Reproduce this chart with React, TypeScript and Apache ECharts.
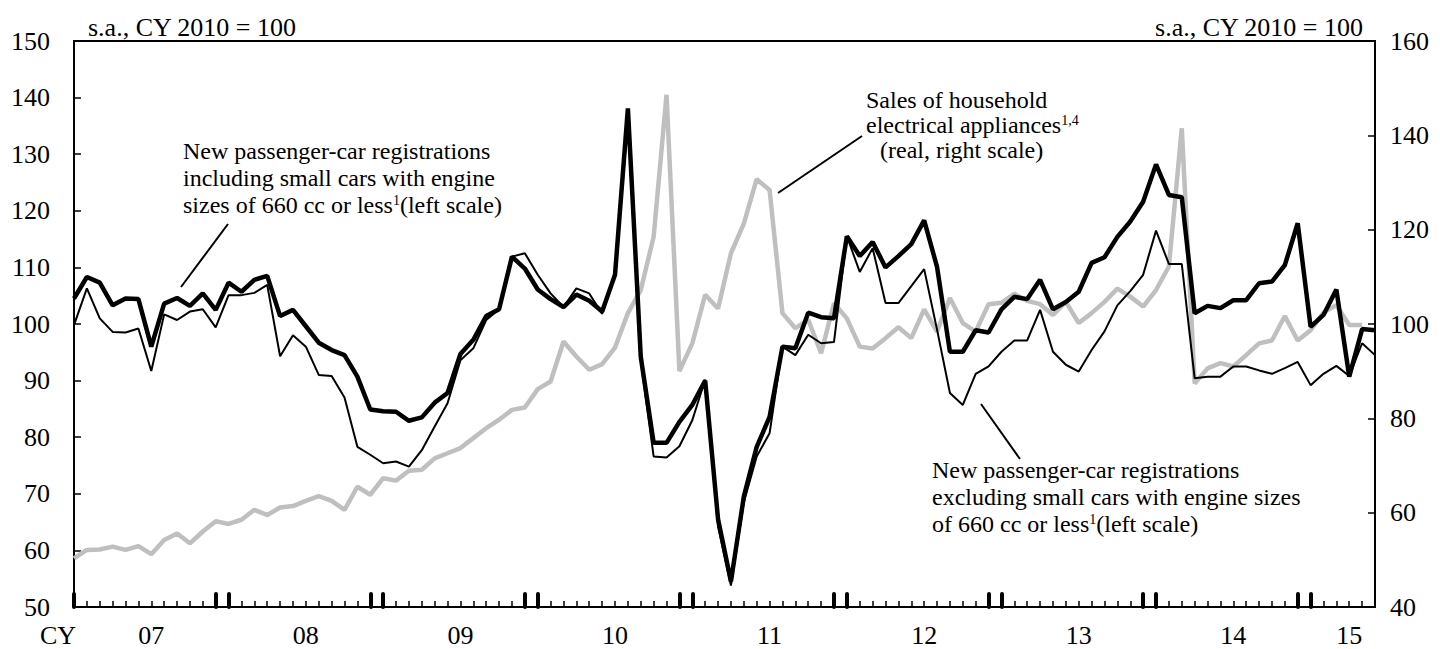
import React, { useEffect, useRef } from "react";
import * as echarts from "echarts";

// ---- data (monthly, Jan 2007 - Jun 2015) ----
const years = [2007, 2008, 2009, 2010, 2011, 2012, 2013, 2014, 2015];
const monthsInLastYear = 6;
const months: string[] = [];
years.forEach((y, yi) => {
  const n = yi === years.length - 1 ? monthsInLastYear : 12;
  for (let m = 1; m <= n; m++) months.push(`${y}-${String(m).padStart(2, "0")}`);
});
const yearTickLabels = ["07", "08", "09", "10", "11", "12", "13", "14", "15"];

// New passenger-car registrations incl. small cars (left scale)
const inclSmall = [
  104.5, 108.3, 107.3, 103.3, 104.5, 104.4, 96.0, 103.6, 104.6, 103.2, 105.4, 102.5,
  107.3, 105.7, 107.8, 108.5, 101.4, 102.5, 99.6, 96.7, 95.4, 94.5, 90.7, 84.9,
  84.6, 84.5, 82.9, 83.5, 86.1, 87.8, 94.7, 97.2, 101.4, 102.6, 111.9, 109.8,
  106.1, 104.4, 103.0, 105.2, 104.1, 102.2, 108.7, 138.1, 94.2, 79.0, 79.0, 82.7,
  85.7, 90.0, 65.5, 54.5, 69.5, 78.3, 83.6, 96.0, 95.7, 102.0, 101.2, 101.0,
  115.5, 112.0, 114.5, 110.0, 112.0, 114.1, 118.3, 110.1, 95.1, 95.1, 98.9, 98.5,
  102.6, 104.8, 104.4, 107.8, 102.6, 103.9, 105.7, 110.8, 111.8, 115.4, 118.1, 121.6,
  128.2, 122.8, 122.4, 101.9, 103.2, 102.8, 104.2, 104.2, 107.2, 107.5, 110.4, 117.8,
  99.5, 101.6, 106.1, 90.7, 99.1, 98.9,
];

// New passenger-car registrations excl. small cars (left scale)
const exclSmall = [
  99.8, 106.3, 101.0, 98.6, 98.5, 99.2, 91.7, 101.7, 100.7, 102.2, 102.6, 99.4,
  105.1, 105.1, 105.5, 106.9, 94.3, 98.0, 96.0, 91.0, 90.8, 87.0, 78.3, 76.9,
  75.4, 75.7, 74.8, 77.7, 81.9, 86.0, 93.6, 95.7, 100.7, 102.6, 111.9, 112.5,
  108.7, 105.4, 103.0, 106.3, 105.4, 101.8, 108.4, 136.0, 93.5, 76.6, 76.4, 78.4,
  83.0, 90.2, 64.2, 53.8, 68.5, 76.6, 80.7, 96.0, 94.5, 98.1, 96.6, 96.8,
  115.5, 109.2, 113.4, 103.7, 103.7, 106.7, 109.7, 99.0, 87.8, 85.7, 91.2, 92.5,
  95.1, 97.1, 97.1, 102.5, 95.1, 92.8, 91.6, 95.4, 98.7, 103.3, 105.8, 108.7,
  116.5, 110.6, 110.6, 90.4, 90.7, 90.7, 92.5, 92.5, 91.8, 91.2, 92.2, 93.3,
  89.2, 91.2, 92.6, 90.8, 96.6, 94.5,
];

// Sales of household electrical appliances (real, right scale)
const appliances: (number | null)[] = [
  50.3, 52.1, 52.2, 52.8, 52.1, 52.9, 51.2, 54.2, 55.6, 53.5, 56.0, 58.2,
  57.6, 58.5, 60.6, 59.5, 61.1, 61.4, 62.5, 63.5, 62.5, 60.6, 65.5, 63.8,
  67.3, 66.8, 68.9, 69.1, 71.5, 72.6, 73.7, 75.8, 77.9, 79.7, 81.8, 82.3,
  86.2, 87.8, 96.3, 93.1, 90.3, 91.5, 95.0, 102.3, 107.2, 118.5, 148.6, 90.0,
  95.9, 106.2, 103.3, 115.0, 121.3, 130.7, 128.4, 102.3, 99.1, 100.9, 93.8, 104.4,
  101.2, 95.2, 94.8, 97.0, 99.3, 97.0, 103.1, 98.4, 105.5, 100.2, 98.4, 104.2,
  104.5, 106.4, 104.9, 104.2, 101.9, 104.7, 100.2, 102.3, 104.7, 107.5, 105.8, 103.7,
  107.2, 112.2, 141.5, 87.4, 90.6, 91.7, 91.0, 93.4, 95.9, 96.5, 101.7, 96.5,
  98.7, 102.4, 104.0, 99.8, 99.8, null,
];

const leftTicks = { min: 50, max: 150, interval: 10 };
const rightTicks = { min: 40, max: 160, interval: 20 };

const FONT = '"Liberation Serif", "Times New Roman", serif';

function txt(x: number, y: number, text: string, opts: any = {}) {
  return {
    type: "text",
    x,
    y,
    silent: true,
    style: {
      text,
      fontFamily: FONT,
      fontSize: opts.fontSize ?? 24,
      fill: "#000",
      align: opts.align ?? "left",
      textAlign: opts.align ?? "left",
      verticalAlign: "middle",
      textVerticalAlign: "middle",
      rich: {
        s: { fontSize: 14, fontFamily: FONT, fill: "#000", verticalAlign: "top", lineHeight: 20 },
      },
    },
  };
}

function leader(x1: number, y1: number, x2: number, y2: number) {
  return {
    type: "line",
    silent: true,
    shape: { x1, y1, x2, y2 },
    style: { stroke: "#000", lineWidth: 2 },
  };
}

export default function App() {
  const ref = useRef<HTMLDivElement>(null);
  useEffect(() => {
    if (!ref.current) return;
    const chart = echarts.init(ref.current, undefined, { renderer: "svg" });
    const labelAt = (i: number) =>
      (i % 12 === 6 && i < 96) || i === 99;
    const option: any = {
      animation: false,
      backgroundColor: "#fff",
      grid: {
        left: 74,
        right: 65,
        top: 41,
        bottom: 42,
        show: true,
        borderColor: "#000",
        borderWidth: 2,
        backgroundColor: "transparent",
      },
      xAxis: [
        {
          type: "category",
          data: months,
          boundaryGap: false,
          axisLine: { lineStyle: { color: "#000", width: 2 } },
          axisTick: {
            show: true,
            inside: true,
            length: 6,
            interval: 0,
            lineStyle: { color: "#000", width: 1.5 },
          },
          axisLabel: {
            interval: (i: number) => labelAt(i),
            formatter: (_v: string, i: number) => {
              if (i === 99) return yearTickLabels[8];
              return yearTickLabels[Math.floor(i / 12)];
            },
            color: "#000",
            fontFamily: FONT,
            fontSize: 26,
            margin: 15,
          },
          splitLine: { show: false },
        },
        {
          type: "category",
          data: months,
          boundaryGap: false,
          position: "bottom",
          axisLine: { show: false },
          axisTick: {
            show: true,
            inside: true,
            length: 13,
            interval: (i: number) => i % 12 === 0 || i % 12 === 11,
            lineStyle: { color: "#000", width: 4, cap: "round" },
          },
          axisLabel: { show: false },
          splitLine: { show: false },
        },
      ],
      yAxis: [
        {
          type: "value",
          position: "left",
          ...leftTicks,
          axisLine: { show: true, lineStyle: { color: "#000", width: 2 } },
          axisTick: { show: true, inside: true, length: 7, lineStyle: { color: "#000", width: 1.5 } },
          axisLabel: { color: "#000", fontFamily: FONT, fontSize: 26, margin: 24 },
          splitLine: { show: false },
        },
        {
          type: "value",
          position: "right",
          ...rightTicks,
          axisLine: { show: true, lineStyle: { color: "#000", width: 2 } },
          axisTick: { show: true, inside: true, length: 7, lineStyle: { color: "#000", width: 1.5 } },
          axisLabel: { color: "#000", fontFamily: FONT, fontSize: 26, margin: 15 },
          splitLine: { show: false },
        },
      ],
      series: [
        {
          name: "Sales of household electrical appliances",
          type: "line",
          yAxisIndex: 1,
          data: appliances,
          showSymbol: false,
          lineStyle: { color: "#bfbfbf", width: 4.5 },
          z: 2,
        },
        {
          name: "excluding small cars",
          type: "line",
          yAxisIndex: 0,
          data: exclSmall,
          showSymbol: false,
          lineStyle: { color: "#000", width: 2 },
          z: 3,
        },
        {
          name: "including small cars",
          type: "line",
          yAxisIndex: 0,
          data: inclSmall,
          showSymbol: false,
          lineStyle: { color: "#000", width: 4.5 },
          z: 4,
        },
      ],
      graphic: [
        txt(58, 635, "CY", { fontSize: 26, align: "center" }),
        txt(88, 27, "s.a., CY 2010 = 100", { fontSize: 26 }),
        txt(1363, 27, "s.a., CY 2010 = 100", { fontSize: 26, align: "right" }),
        txt(183, 151, "New passenger-car registrations"),
        txt(183, 178, "including small cars with engine"),
        txt(183, 205, "sizes of 660 cc or less{s|1}(left scale)"),
        txt(866, 100, "Sales of household"),
        txt(866, 125, "electrical appliances{s|1,4}"),
        txt(880, 150, "(real, right scale)"),
        txt(932, 470, "New passenger-car registrations"),
        txt(932, 497, "excluding small cars with engine sizes"),
        txt(932, 524, "of 660 cc or less{s|1}(left scale)"),
        leader(228, 224, 181, 287),
        leader(862, 136, 778, 193),
        leader(981, 404, 1020, 459),
      ],
    };
    chart.setOption(option);
    return () => chart.dispose();
  }, []);
  return (
    <div
      ref={ref}
      style={{ position: "fixed", left: 0, top: 0, width: 1440, height: 649, background: "#fff" }}
    />
  );
}
